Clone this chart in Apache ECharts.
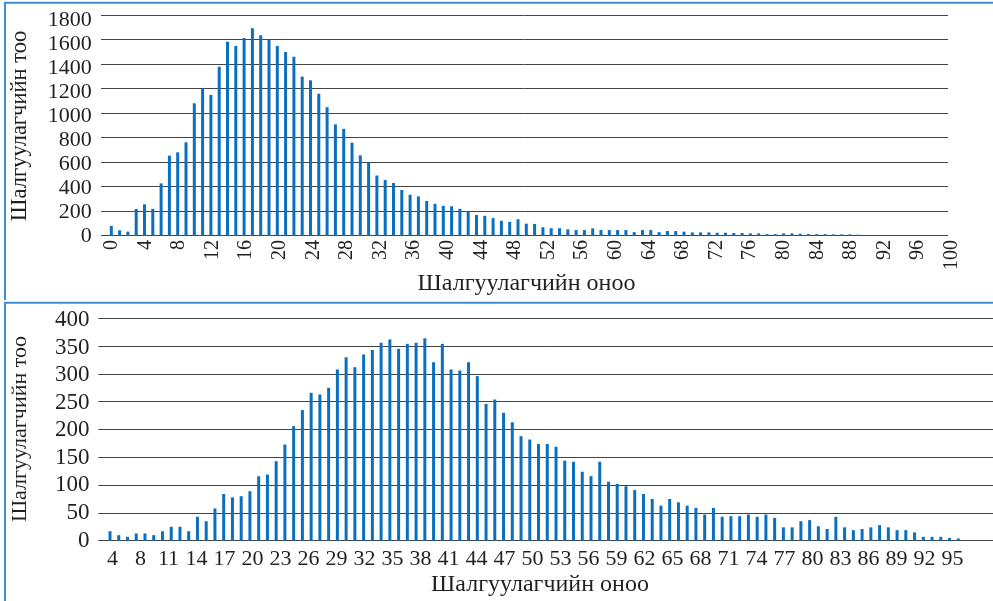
<!DOCTYPE html>
<html>
<head>
<meta charset="utf-8">
<script src="https://cdn.jsdelivr.net/npm/echarts@6/dist/echarts.min.js"></script>
<style>
  html, body { margin: 0; padding: 0; background: #ffffff; }
  #main { width: 993px; height: 601px; }
</style>
</head>
<body>
<div id="main"></div>
<script>
// Upper panel: number of examinees per score (scores 0..90)
const countsTop = [
  79, 44, 33, 218, 256, 218, 427, 653, 680, 762,
  1080, 1202, 1148, 1378, 1582, 1547, 1612, 1692, 1635, 1596,
  1547, 1498, 1460, 1297, 1267, 1158, 1048, 908, 871, 759,
  655, 598, 491, 454, 430, 373, 334, 321, 283, 260,
  243, 240, 219, 197, 169, 162, 143, 122, 113, 134,
  98, 96, 69, 61, 61, 52, 46, 46, 60, 46,
  46, 46, 46, 29, 46, 46, 29, 38, 38, 33,
  27, 27, 27, 24, 24, 22, 22, 19, 19, 13,
  13, 19, 19, 16, 13, 13, 13, 11, 11, 11,
  8
];
const scoresTop = countsTop.map((_, i) => String(i));
// Upper panel axis ticks: 0..100, every 4th shown
const tickLabelsTop = Array.from({ length: 101 }, (_, i) => String(i));
const yMaxTop = 1800, yStepTop = 200;

// Lower panel: number of examinees per score
const countsBottom = [
  17, 10, 7, 13, 13, 10, 17, 25, 25, 17,
  43, 35, 58, 84, 78, 80, 89, 116, 119, 143,
  173, 206, 235, 266, 263, 275, 308, 330, 312, 335,
  343, 356, 362, 345, 354, 356, 364, 321, 354, 308,
  306, 321, 296, 246, 254, 230, 213, 188, 182, 174,
  174, 169, 144, 142, 124, 116, 142, 106, 102, 98,
  91, 84, 75, 63, 75, 69, 63, 59, 47, 59,
  43, 44, 44, 47, 43, 47, 41, 24, 24, 35,
  37, 26, 21, 43, 24, 19, 21, 24, 28, 24,
  19, 19, 15, 7, 7, 7, 5, 4
];
const scoresBottom = countsBottom.map((_, i) => String(i));
const tickLabelsBottom = [
  '4', '8', '11', '14', '17', '20', '23', '26', '29', '32', '35',
  '38', '41', '44', '47', '50', '53', '56', '59', '62', '65',
  '68', '71', '74', '77', '80', '83', '86', '89', '92', '95'
];
const yMaxBottom = 400, yStepBottom = 50;

const xTitle = 'Шалгуулагчийн оноо';
const yTitle = 'Шалгуулагчийн тоо';

const SERIF = '"Liberation Serif", "Times New Roman", serif';
const INK = '#231f20';
const BAR = '#0b6fbf';
const GRIDLINE = '#444444';
const FRAME = '#3d8fd1';

const hidden = { show: false };
const plain = v => String(v);

const chart = echarts.init(document.getElementById('main'), null, { renderer: 'canvas' });

chart.setOption({
  animation: false,
  backgroundColor: '#ffffff',
  grid: [
    // upper panel: gridlines, bars, tick labels
    { left: 101, right: 45, top: 15, bottom: 365.3 },
    { left: 111.3, right: 134.7, top: 15, bottom: 365.3 },
    { left: 111.7, right: 41.3, top: 20.7, bottom: 365 },
    // lower panel: gridlines, bars, tick labels
    { left: 98.3, right: 0, top: 318.3, bottom: 60.3 },
    { left: 110, right: 34.7, top: 318.3, bottom: 60.3 },
    { left: 112.5, right: 40.5, top: 320, bottom: 60.5 }
  ],
  xAxis: [
    { gridIndex: 0, type: 'value', min: 0, max: 1, show: false },
    { gridIndex: 1, type: 'category', data: scoresTop, boundaryGap: false,
      axisLine: hidden, axisTick: hidden, axisLabel: hidden },
    { gridIndex: 2, type: 'category', data: tickLabelsTop, boundaryGap: false,
      axisLine: hidden, axisTick: hidden,
      axisLabel: { interval: 3, rotate: 90, margin: 4, fontFamily: SERIF, fontSize: 20, color: INK } },
    { gridIndex: 3, type: 'value', min: 0, max: 1, show: false },
    { gridIndex: 4, type: 'category', data: scoresBottom, boundaryGap: false,
      axisLine: hidden, axisTick: hidden, axisLabel: hidden },
    { gridIndex: 5, type: 'category', data: tickLabelsBottom, boundaryGap: false,
      axisLine: hidden, axisTick: hidden,
      axisLabel: { interval: 0, margin: 8, fontFamily: SERIF, fontSize: 22, color: INK } }
  ],
  yAxis: [
    { gridIndex: 0, type: 'value', min: 0, max: yMaxTop, interval: yStepTop,
      axisLine: hidden, axisTick: hidden, axisLabel: hidden,
      splitLine: { show: true, lineStyle: { color: GRIDLINE, width: 1 } } },
    { gridIndex: 1, type: 'value', min: 0, max: yMaxTop, show: false },
    { gridIndex: 2, type: 'value', min: 0, max: yMaxTop, interval: yStepTop,
      axisLine: hidden, axisTick: hidden, splitLine: hidden,
      axisLabel: { margin: 20, formatter: plain, fontFamily: SERIF, fontSize: 22, color: INK } },
    { gridIndex: 3, type: 'value', min: 0, max: yMaxBottom, interval: yStepBottom,
      axisLine: hidden, axisTick: hidden, axisLabel: hidden,
      splitLine: { show: true, lineStyle: { color: GRIDLINE, width: 1 } } },
    { gridIndex: 4, type: 'value', min: 0, max: yMaxBottom, show: false },
    { gridIndex: 5, type: 'value', min: 0, max: yMaxBottom, interval: yStepBottom,
      axisLine: hidden, axisTick: hidden, splitLine: hidden,
      axisLabel: { margin: 23, formatter: plain, fontFamily: SERIF, fontSize: 23, color: INK } }
  ],
  series: [
    { type: 'bar', xAxisIndex: 1, yAxisIndex: 1, data: countsTop,
      barWidth: 3, itemStyle: { color: BAR } },
    { type: 'bar', xAxisIndex: 4, yAxisIndex: 4, data: countsBottom,
      barWidth: 3, itemStyle: { color: BAR } }
  ],
  graphic: [
    // panel frames
    { type: 'line', shape: { x1: 5, y1: 2.7, x2: 993, y2: 2.7 }, style: { stroke: FRAME, lineWidth: 2 } },
    { type: 'line', shape: { x1: 5, y1: 2, x2: 5, y2: 300 }, style: { stroke: FRAME, lineWidth: 2 } },
    { type: 'line', shape: { x1: 5, y1: 302.7, x2: 993, y2: 302.7 }, style: { stroke: FRAME, lineWidth: 2 } },
    { type: 'line', shape: { x1: 5, y1: 302, x2: 5, y2: 601 }, style: { stroke: FRAME, lineWidth: 2 } },
    // axis titles
    { type: 'text', x: 526.5, y: 284,
      style: { text: xTitle, font: '24px ' + SERIF, fill: INK,
               align: 'center', verticalAlign: 'middle', textAlign: 'center', textVerticalAlign: 'middle' } },
    { type: 'text', x: 20, y: 126, rotation: Math.PI / 2,
      style: { text: yTitle, font: '22.5px ' + SERIF, fill: INK,
               align: 'center', verticalAlign: 'middle', textAlign: 'center', textVerticalAlign: 'middle' } },
    { type: 'text', x: 540, y: 585,
      style: { text: xTitle, font: '24px ' + SERIF, fill: INK,
               align: 'center', verticalAlign: 'middle', textAlign: 'center', textVerticalAlign: 'middle' } },
    { type: 'text', x: 20, y: 429, rotation: Math.PI / 2,
      style: { text: yTitle, font: '22px ' + SERIF, fill: INK,
               align: 'center', verticalAlign: 'middle', textAlign: 'center', textVerticalAlign: 'middle' } }
  ]
});
</script>
</body>
</html>
